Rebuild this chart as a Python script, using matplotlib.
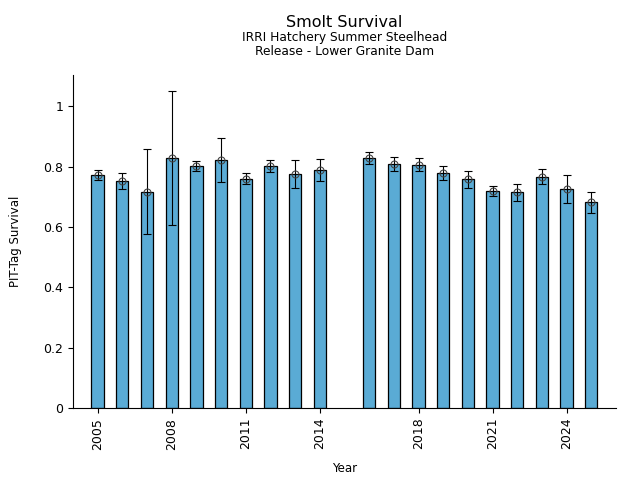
import numpy as np
import matplotlib
matplotlib.use("Agg")
import matplotlib.pyplot as plt
from matplotlib.ticker import FuncFormatter

# survival estimates by release year (no estimate for 2015)
years = [2005, 2006, 2007, 2008, 2009, 2010, 2011, 2012, 2013, 2014,
         2016, 2017, 2018, 2019, 2020, 2021, 2022, 2023, 2024, 2025]
survival = [0.773, 0.753, 0.717, 0.830, 0.803, 0.823, 0.760, 0.803, 0.776, 0.790,
            0.830, 0.810, 0.806, 0.780, 0.760, 0.720, 0.717, 0.766, 0.727, 0.683]
ci_low = [0.757, 0.727, 0.577, 0.607, 0.786, 0.750, 0.743, 0.783, 0.730, 0.753,
          0.810, 0.786, 0.786, 0.757, 0.730, 0.703, 0.687, 0.743, 0.680, 0.647]
ci_high = [0.790, 0.780, 0.859, 1.052, 0.820, 0.896, 0.780, 0.823, 0.823, 0.826,
           0.849, 0.833, 0.830, 0.803, 0.786, 0.737, 0.743, 0.793, 0.773, 0.717]

surv = np.array(survival)
yerr = np.vstack([surv - np.array(ci_low), np.array(ci_high) - surv])

fig, ax = plt.subplots(figsize=(6.4, 4.8), dpi=100)
fig.subplots_adjust(left=0.114, right=0.9625, top=0.844, bottom=0.15)

ax.bar(years, surv, width=0.5, color='#5aabd5', edgecolor='black', linewidth=0.9, zorder=2)
ax.errorbar(years, surv, yerr=yerr, fmt='o', markersize=5, markerfacecolor='none',
            markeredgecolor='#444444', markeredgewidth=0.8, ecolor='black',
            elinewidth=0.8, capsize=3, capthick=0.8, zorder=3)

ax.set_xlim(2004, 2026)
ax.set_xticks(years[::3])
ax.tick_params(axis='x', labelrotation=90, labelsize=9)
ax.tick_params(axis='y', labelsize=9)
ax.yaxis.set_major_formatter(FuncFormatter(lambda v, p: f"{v:g}"))

ax.spines['top'].set_visible(False)
ax.spines['right'].set_visible(False)

ax.set_xlabel('Year', fontsize=8.5, labelpad=9)
ax.set_ylabel('PIT-Tag Survival', fontsize=8.5, labelpad=15)

ax.text(0.5, 1.156, 'Smolt Survival', transform=ax.transAxes, ha='center', va='center', fontsize=11.5)
ax.text(0.5, 1.111, 'IRRI Hatchery Summer Steelhead', transform=ax.transAxes, ha='center', va='center', fontsize=8.8)
ax.text(0.5, 1.069, 'Release - Lower Granite Dam', transform=ax.transAxes, ha='center', va='center', fontsize=8.8)

plt.savefig('out.png')
